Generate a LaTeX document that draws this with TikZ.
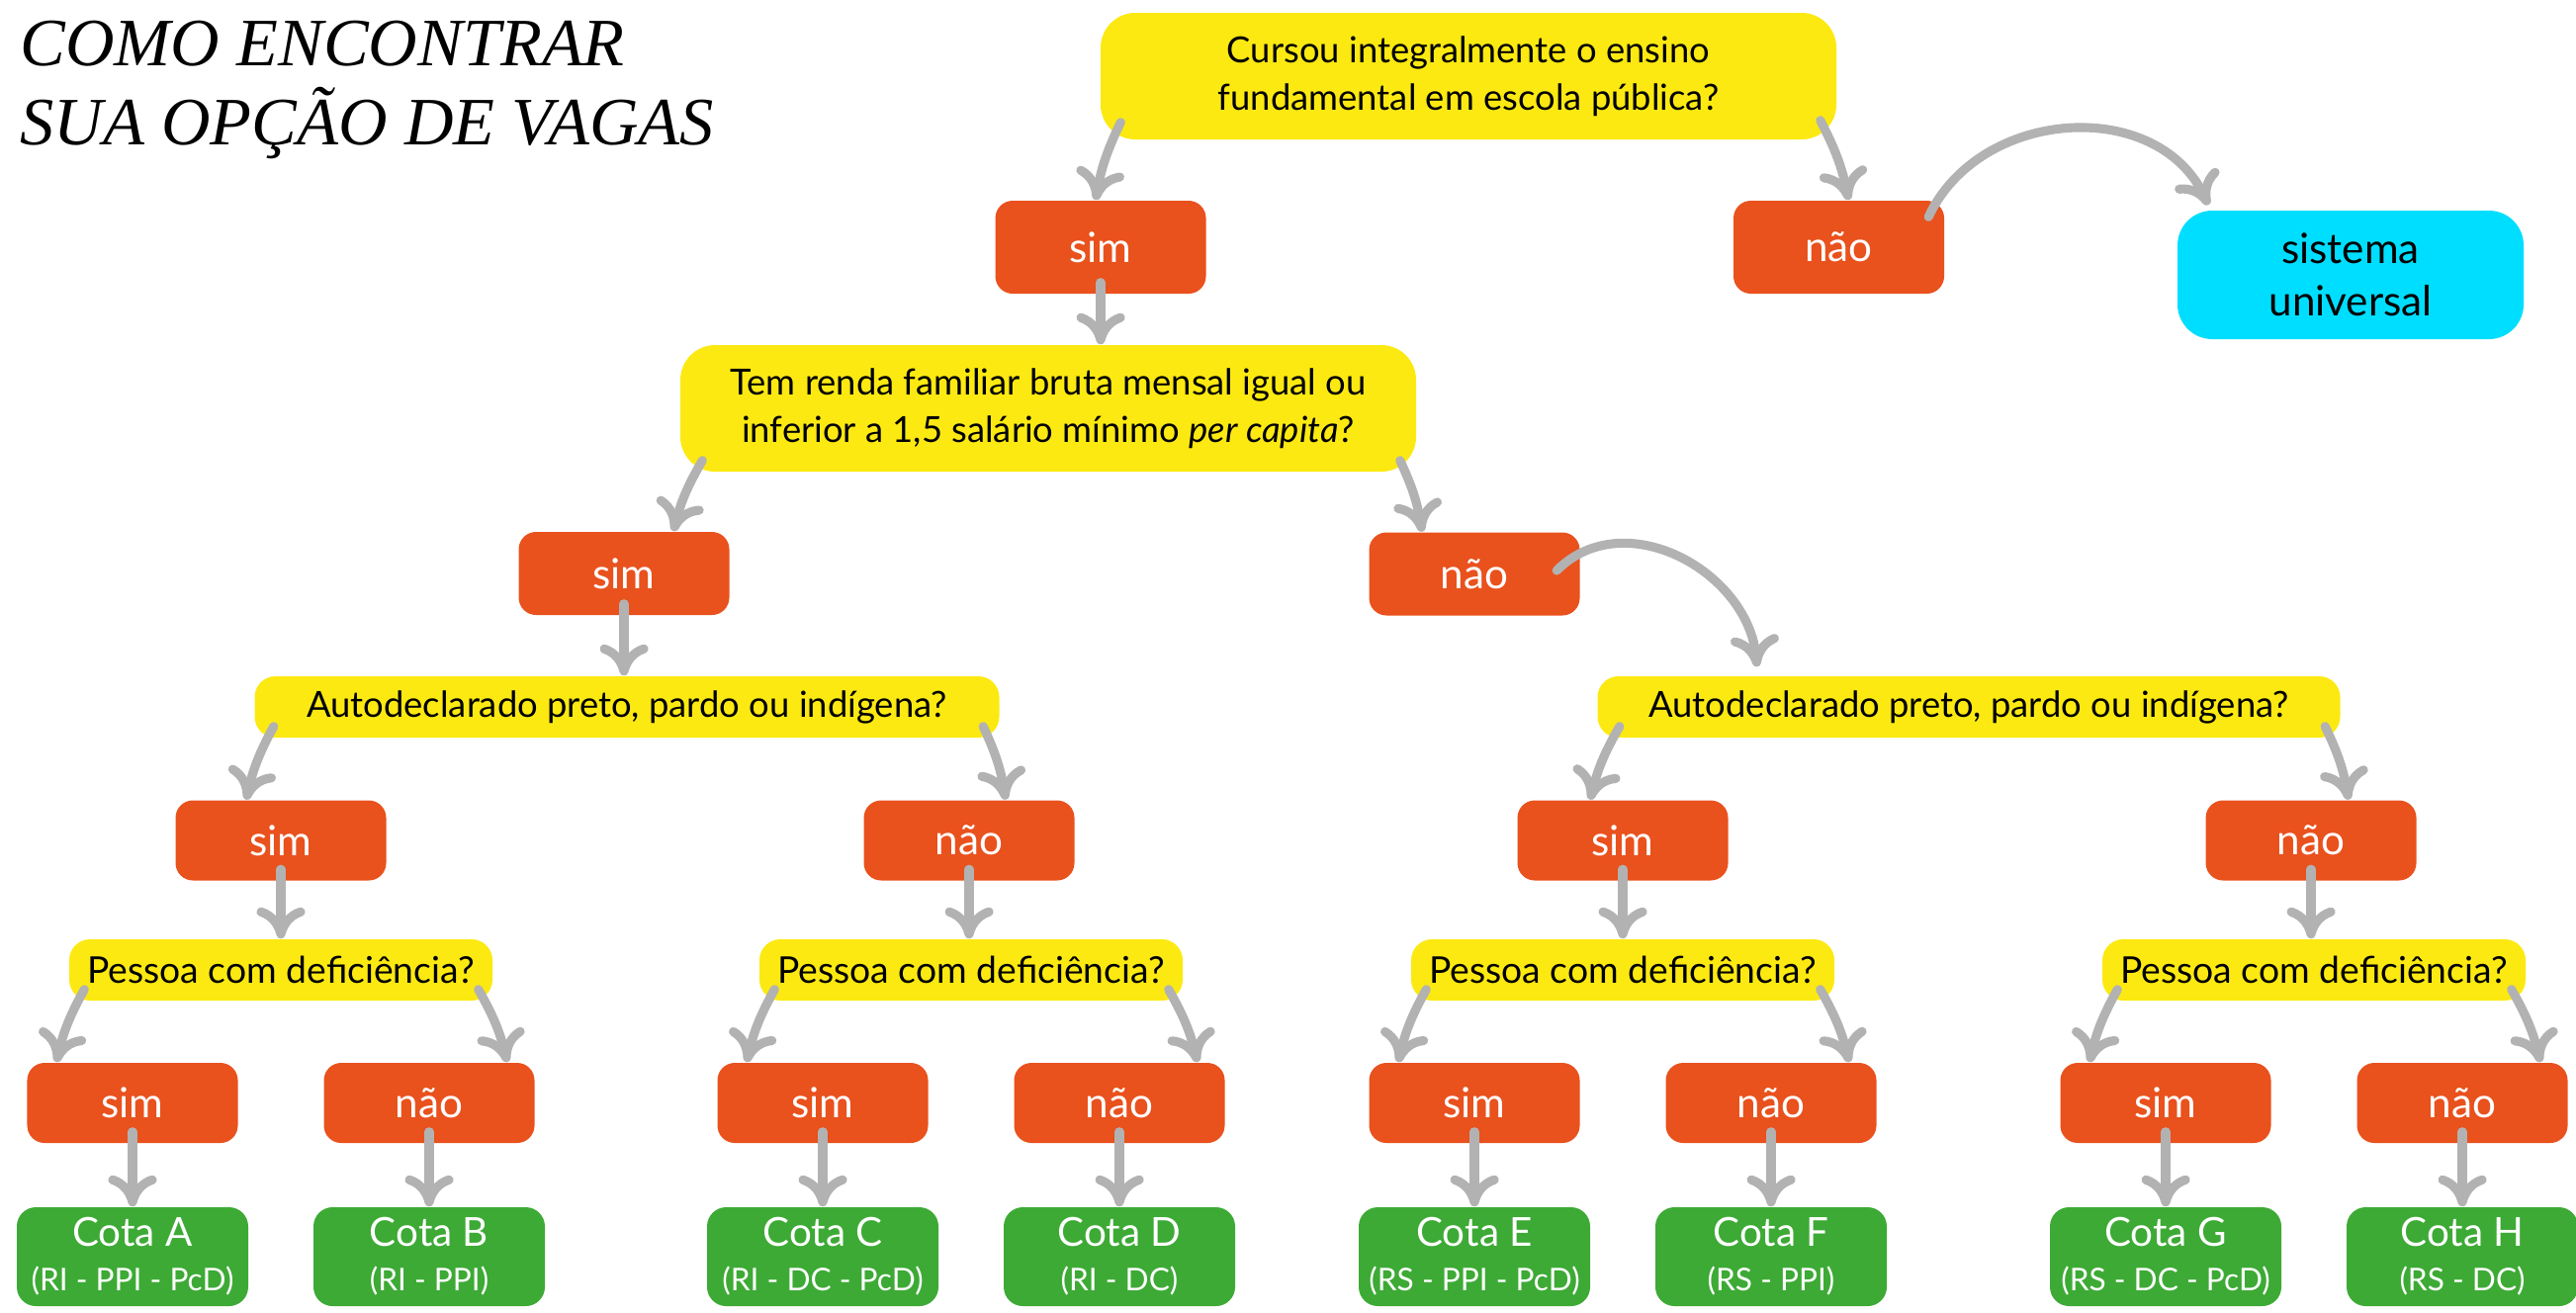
\documentclass[tikz,border=0pt]{standalone}
\usepackage{fontspec}
\setmainfont{Lato}
\newfontfamily\titlefont{Liberation Serif}
\usetikzlibrary{arrows.meta}

\definecolor{qyellow}{RGB}{252,233,18}
\definecolor{rorange}{RGB}{233,81,29}
\definecolor{cgreen}{RGB}{61,170,53}
\definecolor{ucyan}{RGB}{0,222,255}
\definecolor{agray}{RGB}{178,178,178}

\tikzset{
  pergunta/.style={fill=qyellow, rounded corners=6pt, inner sep=0pt, align=center, font=\fontsize{10.35pt}{13.5pt}\selectfont},
  resposta/.style={fill=rorange, rounded corners=5pt, text=white, inner sep=0pt, minimum width=2.13cm, minimum height=0.81cm, font=\fontsize{12pt}{14pt}\selectfont},
  cota/.style={fill=cgreen, rounded corners=5.5pt, text=white, inner sep=0pt, minimum width=2.34cm, minimum height=1cm, align=center, font=\fontsize{11.5pt}{12.8pt}\selectfont},
  seta/.style={draw=agray, line width=2.6pt, line cap=round, -{Computer Modern Rightarrow[length=9pt,width=14pt]}},
}

\begin{document}
\begin{tikzpicture}
\useasboundingbox (0,0) rectangle (26.05,-13.27);

\node[anchor=north west, inner sep=0pt, align=left, font=\titlefont\itshape\fontsize{19.5pt}{23pt}\selectfont] (T) at (0.2,-0.2) {COMO ENCONTRAR\\SUA OPÇÃO DE VAGAS};

\node[pergunta, minimum width=7.44cm, minimum height=1.28cm, rounded corners=10pt] (Q1) at (14.85,-0.77) {Cursou integralmente o ensino\\fundamental em escola pública?};
\node[resposta, minimum height=0.94cm] (S1) at (11.13,-2.50) {sim};
\node[resposta, minimum height=0.94cm] (N1) at (18.595,-2.50) {não};
\node[fill=ucyan, rounded corners=10pt, inner sep=0pt, minimum width=3.5cm, minimum height=1.3cm, align=center, font=\fontsize{12pt}{15pt}\selectfont] (U) at (23.77,-2.78) {sistema\\universal};

\node[pergunta, minimum width=7.44cm, minimum height=1.28cm, rounded corners=10pt] (Q2) at (10.60,-4.13) {Tem renda familiar bruta mensal igual ou\\inferior a 1,5 salário mínimo \textit{per capita}?};
\node[resposta, minimum height=0.84cm] (S2) at (6.31,-5.80) {sim};
\node[resposta, minimum height=0.84cm] (N2) at (14.91,-5.805) {não};

\node[pergunta, minimum width=7.53cm, minimum height=0.62cm] (QA) at (6.34,-7.15) {Autodeclarado preto, pardo ou indígena?};
\node[pergunta, minimum width=7.51cm, minimum height=0.62cm] (QB) at (19.91,-7.15) {Autodeclarado preto, pardo ou indígena?};

\node[resposta] (SA) at (2.84,-8.50) {sim};
\node[resposta] (NA) at (9.80,-8.50) {não};
\node[resposta] (SB) at (16.41,-8.50) {sim};
\node[resposta] (NB) at (23.37,-8.50) {não};

\node[pergunta, minimum width=4.28cm, minimum height=0.62cm, font=\fontsize{10.6pt}{13pt}\selectfont] (PA) at (2.84,-9.81) {Pessoa com deficiência?};
\node[pergunta, minimum width=4.28cm, minimum height=0.62cm, font=\fontsize{10.6pt}{13pt}\selectfont] (PB) at (9.82,-9.81) {Pessoa com deficiência?};
\node[pergunta, minimum width=4.28cm, minimum height=0.62cm, font=\fontsize{10.6pt}{13pt}\selectfont] (PC) at (16.41,-9.81) {Pessoa com deficiência?};
\node[pergunta, minimum width=4.28cm, minimum height=0.62cm, font=\fontsize{10.6pt}{13pt}\selectfont] (PD) at (23.40,-9.81) {Pessoa com deficiência?};

\node[resposta] (S5) at (1.34,-11.155) {sim};
\node[resposta] (N5) at (4.34,-11.155) {não};
\node[resposta] (S6) at (8.32,-11.155) {sim};
\node[resposta] (N6) at (11.32,-11.155) {não};
\node[resposta] (S7) at (14.91,-11.155) {sim};
\node[resposta] (N7) at (17.91,-11.155) {não};
\node[resposta] (S8) at (21.90,-11.155) {sim};
\node[resposta] (N8) at (24.90,-11.155) {não};

\node[cota] (CA) at (1.34,-12.71) {Cota A\\{\fontsize{9pt}{11pt}\selectfont (RI - PPI - PcD)}};
\node[cota] (CB) at (4.34,-12.71) {Cota B\\{\fontsize{9pt}{11pt}\selectfont (RI - PPI)}};
\node[cota] (CC) at (8.32,-12.71) {Cota C\\{\fontsize{9pt}{11pt}\selectfont (RI - DC - PcD)}};
\node[cota] (CD) at (11.32,-12.71) {Cota D\\{\fontsize{9pt}{11pt}\selectfont (RI - DC)}};
\node[cota] (CE) at (14.91,-12.71) {Cota E\\{\fontsize{9pt}{11pt}\selectfont (RS - PPI - PcD)}};
\node[cota] (CF) at (17.91,-12.71) {Cota F\\{\fontsize{9pt}{11pt}\selectfont (RS - PPI)}};
\node[cota] (CG) at (21.90,-12.71) {Cota G\\{\fontsize{9pt}{11pt}\selectfont (RS - DC - PcD)}};
\node[cota] (CH) at (24.90,-12.71) {Cota H\\{\fontsize{9pt}{11pt}\selectfont (RS - DC)}};

\draw[seta] ([shift={(0.21,0.18)}]Q1.south west) to[bend right=8] ([xshift=-0.05cm]S1.north);
\draw[seta] ([shift={(-0.17,0.2)}]Q1.south east) to[bend left=8] ([xshift=0.1cm]N1.north);
\draw[seta] ([shift={(-0.165,-0.17)}]N1.north east) to[out=65, in=115, looseness=1.1] ([shift={(0.32,0.05)}]U.north west);
\draw[seta] ([yshift=0.12cm]S1.south) -- (S1.south |- Q2.north);

\draw[seta] ([shift={(0.23,0.12)}]Q2.south west) to[bend right=8] ([xshift=0.5cm]S2.north);
\draw[seta] ([shift={(-0.17,0.12)}]Q2.south east) to[bend left=8] ([xshift=-0.53cm]N2.north);
\draw[seta] ([shift={(-0.24,0.035)}]N2.east) to[out=45, in=95, looseness=1.1] ([shift={(1.62,0.09)}]QB.north west);
\draw[seta] ([yshift=0.12cm]S2.south) -- (S2.south |- QA.north);

\draw[seta] ([shift={(0.2,0.12)}]QA.south west) to[bend right=8] ([xshift=-0.35cm]SA.north);
\draw[seta] ([shift={(-0.17,0.12)}]QA.south east) to[bend left=8] ([xshift=0.37cm]NA.north);
\draw[seta] ([shift={(0.23,0.12)}]QB.south west) to[bend right=8] ([xshift=-0.33cm]SB.north);
\draw[seta] ([shift={(-0.16,0.12)}]QB.south east) to[bend left=8] ([xshift=0.38cm]NB.north);

\draw[seta] ([yshift=0.12cm]SA.south) -- (SA.south |- PA.north);
\draw[seta] ([yshift=0.12cm]NA.south) -- (NA.south |- PB.north);
\draw[seta] ([yshift=0.12cm]SB.south) -- (SB.south |- PC.north);
\draw[seta] ([yshift=0.12cm]NB.south) -- (NB.south |- PD.north);

\draw[seta] ([shift={(0.16,0.12)}]PA.south west) to[bend right=8] ([xshift=-0.77cm]S5.north);
\draw[seta] ([shift={(-0.15,0.12)}]PA.south east) to[bend left=8] ([xshift=0.79cm]N5.north);
\draw[seta] ([shift={(0.16,0.12)}]PB.south west) to[bend right=8] ([xshift=-0.77cm]S6.north);
\draw[seta] ([shift={(-0.15,0.12)}]PB.south east) to[bend left=8] ([xshift=0.79cm]N6.north);
\draw[seta] ([shift={(0.16,0.12)}]PC.south west) to[bend right=8] ([xshift=-0.77cm]S7.north);
\draw[seta] ([shift={(-0.15,0.12)}]PC.south east) to[bend left=8] ([xshift=0.79cm]N7.north);
\draw[seta] ([shift={(0.16,0.12)}]PD.south west) to[bend right=8] ([xshift=-0.77cm]S8.north);
\draw[seta] ([shift={(-0.15,0.12)}]PD.south east) to[bend left=8] ([xshift=0.79cm]N8.north);

\draw[seta] ([yshift=0.12cm]S5.south) -- (S5.south |- CA.north);
\draw[seta] ([yshift=0.12cm]N5.south) -- (N5.south |- CB.north);
\draw[seta] ([yshift=0.12cm]S6.south) -- (S6.south |- CC.north);
\draw[seta] ([yshift=0.12cm]N6.south) -- (N6.south |- CD.north);
\draw[seta] ([yshift=0.12cm]S7.south) -- (S7.south |- CE.north);
\draw[seta] ([yshift=0.12cm]N7.south) -- (N7.south |- CF.north);
\draw[seta] ([yshift=0.12cm]S8.south) -- (S8.south |- CG.north);
\draw[seta] ([yshift=0.12cm]N8.south) -- (N8.south |- CH.north);
\end{tikzpicture}
\end{document}
